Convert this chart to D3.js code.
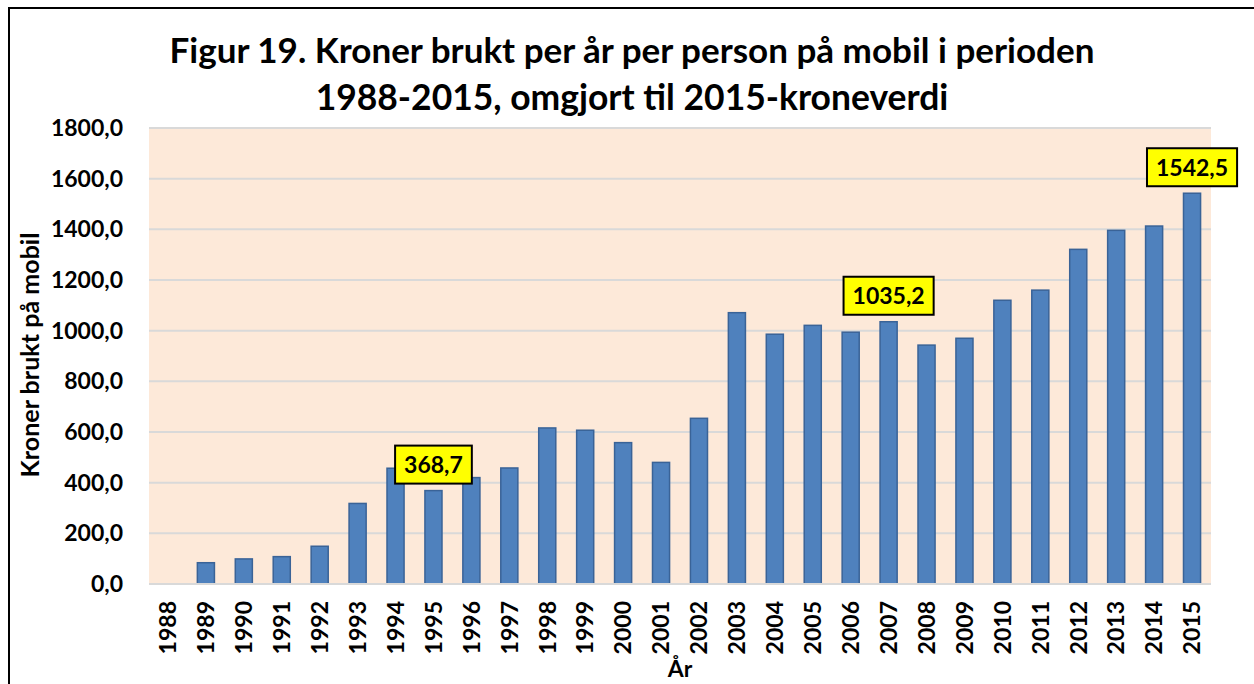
<!DOCTYPE html>
<html>
<head>
<meta charset="utf-8">
<script src="https://cdn.jsdelivr.net/npm/d3@7"></script>
<style>
  body { margin: 0; background: #fff; }
  text { font-family: Lato, "Open Sans", sans-serif; font-weight: bold; fill: #000; }
</style>
</head>
<body>
<div id="chart"></div>
<script>
// data
var years = ['1988', '1989', '1990', '1991', '1992', '1993', '1994', '1995', '1996', '1997',
  '1998', '1999', '2000', '2001', '2002', '2003', '2004', '2005', '2006', '2007',
  '2008', '2009', '2010', '2011', '2012', '2013', '2014', '2015'];
var kroner = [0, 84, 99, 108, 149, 318, 457, 368.7, 420, 458,
  616, 607, 558, 480, 654, 1071, 986, 1021, 994, 1035.2,
  943, 970, 1120, 1160, 1321, 1396, 1413, 1542.5];
var labelYears = ['1995', '2007', '2015'];
var yTicks = [0, 200, 400, 600, 800, 1000, 1200, 1400, 1600, 1800];
var titleLines = ['Figur 19. Kroner brukt per år per person på mobil i perioden',
  '1988-2015, omgjort til 2015-kroneverdi'];

var W = 1254, H = 684;
var margin = { top: 128, right: 43, bottom: 100, left: 149 };
var width = W - margin.left - margin.right;   // 1062
var height = H - margin.top - margin.bottom;  // 456

var fmt = function(v) { return d3.format(".1f")(v).replace(".", ","); };

var svg = d3.select('#chart').append('svg')
  .attr('width', W)
  .attr('height', H);

// outer chart border (only top and left show in frame)
svg.append('path')
  .attr('d', 'M9,' + H + 'V8H' + W)
  .attr('fill', 'none')
  .attr('stroke', '#000')
  .attr('stroke-width', 2);

// sets font size so text gets the given width
function fitText(txt, target) {
  txt.style('font-size', '30px');
  var w = txt.node().getComputedTextLength();
  txt.style('font-size', (30 * target / w) + 'px');
}

// title
var titleWidths = [925, 633];
var titleBase = [63, 110];
titleLines.forEach(function(t, i) {
  var txt = svg.append('text')
    .attr('x', 632)
    .attr('y', titleBase[i])
    .attr('text-anchor', 'middle')
    .text(t);
  fitText(txt, titleWidths[i]);
});

var g = svg.append('g')
  .attr('transform', 'translate(' + margin.left + ',' + margin.top + ')');

var x = d3.scaleBand().domain(years).range([0, width]).paddingInner(0.55).paddingOuter(0.275);
var y = d3.scaleLinear().domain([0, 1800]).range([height, 0]);

// plot area
g.append('rect')
  .attr('width', width)
  .attr('height', height)
  .attr('fill', '#FDE9D9');

// gridlines
g.selectAll('.grid')
  .data(yTicks)
  .enter().append('line')
  .attr('class', 'grid')
  .attr('x1', 0)
  .attr('x2', width)
  .attr('y1', function(d) { return y(d); })
  .attr('y2', function(d) { return y(d); })
  .attr('stroke', '#D9D9D9')
  .attr('stroke-width', 2);

// y axis
var yAxis = g.append('g')
  .call(d3.axisLeft(y).tickValues(yTicks).tickFormat(fmt).tickSize(0).tickPadding(26));
yAxis.select('.domain').remove();
yAxis.selectAll('text')
  .style('font-family', 'Lato, sans-serif')
  .style('font-weight', 'bold')
  .style('font-size', '23px')
  .attr('fill', '#000');

// x axis
var xAxis = g.append('g')
  .attr('transform', 'translate(0,' + height + ')')
  .call(d3.axisBottom(x).tickSize(0));
xAxis.select('.domain').remove();
xAxis.selectAll('text')
  .style('font-family', 'Lato, sans-serif')
  .style('font-weight', 'bold')
  .style('font-size', '23px')
  .attr('fill', '#000')
  .attr('text-anchor', 'end')
  .attr('transform', 'rotate(-90)')
  .attr('x', -17)
  .attr('y', 0)
  .attr('dy', '0.36em');

// bars
g.selectAll('.bar')
  .data(years)
  .enter().append('rect')
  .attr('class', 'bar')
  .attr('x', function(d) { return x(d); })
  .attr('width', x.bandwidth())
  .attr('y', function(d, i) { return y(kroner[i]); })
  .attr('height', function(d, i) { return height - y(kroner[i]); })
  .attr('fill', '#4F81BD')
  .attr('stroke', '#3A6397')
  .attr('stroke-width', 1.5)
  .attr('display', function(d, i) { return kroner[i] > 0 ? null : 'none'; });

// bottom axis line
g.append('line')
  .attr('x1', 0).attr('x2', width)
  .attr('y1', height).attr('y2', height)
  .attr('stroke', '#D9D9D9')
  .attr('stroke-width', 2);

// data labels
var lab = g.selectAll('.lab')
  .data(labelYears)
  .enter().append('g')
  .attr('class', 'lab')
  .attr('transform', function(d) {
    return 'translate(' + (x(d) + x.bandwidth() / 2) + ',' + (y(kroner[years.indexOf(d)]) - 26) + ')';
  });
lab.append('rect')
  .attr('fill', '#FFFF00')
  .attr('stroke', '#000')
  .attr('stroke-width', 2);
lab.append('text')
  .attr('text-anchor', 'middle')
  .attr('dy', '0.36em')
  .style('font-size', '23px')
  .text(function(d) { return fmt(kroner[years.indexOf(d)]); });
lab.each(function() {
  var s = d3.select(this);
  var w = s.select('text').node().getComputedTextLength();
  s.select('rect')
    .attr('x', -w / 2 - 9)
    .attr('y', -19)
    .attr('width', w + 18)
    .attr('height', 38);
});

// axis titles
var yTitle = svg.append('text')
  .attr('transform', 'translate(39,355) rotate(-90)')
  .attr('text-anchor', 'middle')
  .text('Kroner brukt på mobil');
fitText(yTitle, 245);

svg.append('text')
  .attr('x', margin.left + width / 2)
  .attr('y', 677)
  .attr('text-anchor', 'middle')
  .style('font-size', '23px')
  .text('År');
</script>
</body>
</html>
